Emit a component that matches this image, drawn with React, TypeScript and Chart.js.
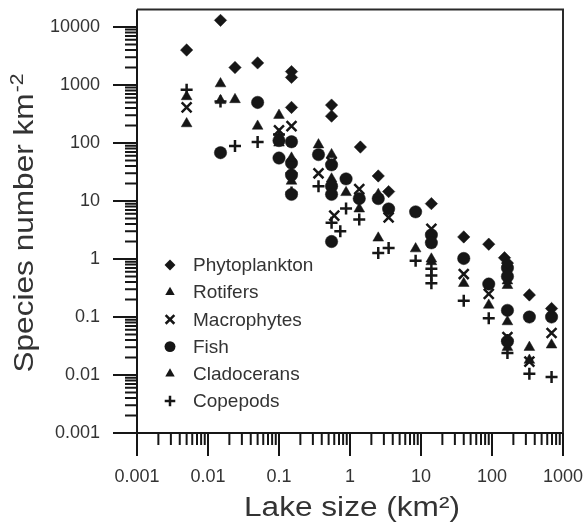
import React, { useEffect, useRef } from 'react';
import { Chart, registerables } from 'chart.js';

Chart.register(...registerables);

// ---- axis ticks ----
const xTickValues = [0.001, 0.01, 0.1, 1, 10, 100, 1000];
const xTickLabels = ['0.001', '0.01', '0.1', '1', '10', '100', '1000'];
const yTickValues = [0.001, 0.01, 0.1, 1, 10, 100, 1000, 10000];
const yTickLabels = ['0.001', '0.01', '0.1', '1', '10', '100', '1000', '10000'];
const xMin = 0.001;
const xMax = 1000;
const yMin = 0.001;
const yMax = 20000;

const xTitle = 'Lake size (km\u00B2)';
const yTitleMain = 'Species number km';
const yTitleSup = '-2';

// ---- series ----
const seriesNames = ['Phytoplankton', 'Rotifers', 'Macrophytes', 'Fish', 'Cladocerans', 'Copepods'];
const seriesStyles = ['rectRot', 'triangle', 'crossRot', 'circle', 'triangle', 'cross'];

const phytoX = [0.005, 0.015, 0.024, 0.05, 0.15, 0.15, 0.15, 0.55, 0.55, 1.4, 2.5, 3.5, 14, 40, 90, 150, 165, 336, 690];
const phytoY = [4000, 13000, 2000, 2400, 1700, 1350, 410, 450, 290, 85, 27, 14.5, 9, 2.4, 1.8, 1.05, 0.85, 0.24, 0.14];

const rotX = [0.005, 0.015, 0.024, 0.05, 0.1, 0.15, 0.36, 0.55, 0.88, 2.5, 8.4, 14, 40, 165, 336, 690];
const rotY = [630, 1050, 560, 195, 300, 55, 93, 63, 14, 13, 1.5, 1.0, 0.38, 0.35, 0.03, 0.033];

const macroX = [0.005, 0.1, 0.15, 0.36, 0.55, 0.6, 1.35, 3.5, 14, 40, 90, 165, 336, 690];
const macroY = [410, 165, 195, 30, 47, 5.6, 16, 5.2, 3.3, 0.55, 0.25, 0.045, 0.017, 0.053];

const fishX = [0.015, 0.05, 0.1, 0.1, 0.15, 0.15, 0.15, 0.15, 0.36, 0.55, 0.55, 0.55, 0.55, 0.88, 1.35, 2.5, 3.5, 8.4, 14, 14, 40, 90, 165, 165, 165, 165, 336, 690];
const fishY = [68, 500, 110, 55, 105, 45, 28, 13, 63, 42, 18, 13, 2.0, 24, 11, 11, 7.3, 6.5, 2.6, 1.9, 1.02, 0.37, 0.7, 0.5, 0.13, 0.038, 0.1, 0.1];

const cladX = [0.005, 0.015, 0.1, 0.15, 0.55, 1.35, 2.5, 14, 90, 165, 165, 165, 336];
const cladY = [215, 540, 100, 22, 24, 7.3, 2.3, 0.9, 0.16, 0.42, 0.083, 0.03, 0.018];

const copeX = [0.005, 0.015, 0.024, 0.05, 0.1, 0.15, 0.15, 0.36, 0.55, 0.73, 0.88, 1.35, 2.5, 3.5, 8.4, 14, 14, 14, 40, 90, 165, 165, 336, 690];
const copeY = [830, 520, 89, 104, 140, 30, 14, 18, 4.2, 3.0, 7.4, 4.8, 1.27, 1.55, 0.93, 0.68, 0.52, 0.38, 0.19, 0.095, 0.04, 0.024, 0.0105, 0.0092];

const seriesX = [phytoX, rotX, macroX, fishX, cladX, copeX];
const seriesY = [phytoY, rotY, macroY, fishY, cladY, copeY];

const INK = '#161616';
const TEXT = '#333333';
const FONT = "'Liberation Sans', Arial, sans-serif";

const pointRadii: Record<string, number> = { rectRot: 6.2, triangle: 6.2, crossRot: 7, circle: 6.2, cross: 6 };

function drawMarker(ctx: CanvasRenderingContext2D, style: string, x: number, y: number, r: number) {
  ctx.beginPath();
  if (style === 'circle') {
    ctx.arc(x, y, r, 0, Math.PI * 2);
    ctx.fill();
  } else if (style === 'rectRot') {
    ctx.moveTo(x, y - r);
    ctx.lineTo(x + r, y);
    ctx.lineTo(x, y + r);
    ctx.lineTo(x - r, y);
    ctx.closePath();
    ctx.fill();
  } else if (style === 'triangle') {
    ctx.moveTo(x, y - r);
    ctx.lineTo(x + r * 0.866, y + r * 0.5);
    ctx.lineTo(x - r * 0.866, y + r * 0.5);
    ctx.closePath();
    ctx.fill();
  } else if (style === 'cross') {
    ctx.moveTo(x - r, y);
    ctx.lineTo(x + r, y);
    ctx.moveTo(x, y - r);
    ctx.lineTo(x, y + r);
    ctx.stroke();
  } else if (style === 'crossRot') {
    const d = r * Math.SQRT1_2;
    ctx.moveTo(x - d, y - d);
    ctx.lineTo(x + d, y + d);
    ctx.moveTo(x - d, y + d);
    ctx.lineTo(x + d, y - d);
    ctx.stroke();
  }
}

const decorPlugin = {
  id: 'decor',
  beforeDatasetsDraw(chart: any) {
    const { ctx, chartArea: ca, scales } = chart;
    const xs = scales.x;
    const ys = scales.y;
    ctx.save();
    ctx.strokeStyle = INK;
    ctx.lineWidth = 2;
    ctx.lineCap = 'butt';
    ctx.beginPath();
    ctx.moveTo(ca.left, ca.top);
    ctx.lineTo(ca.left, ca.bottom);
    ctx.lineTo(ca.right, ca.bottom);
    ctx.stroke();
    ctx.strokeStyle = '#2a2a2a';
    ctx.beginPath();
    ctx.moveTo(ca.left, ca.top);
    ctx.lineTo(ca.right, ca.top);
    ctx.lineTo(ca.right, ca.bottom);
    ctx.stroke();
    ctx.strokeStyle = INK;
    const majLen = 23;
    const minLen = 12;
    ctx.beginPath();
    xTickValues.forEach((v, i) => {
      const px = xs.getPixelForValue(v);
      ctx.moveTo(px, ca.bottom);
      ctx.lineTo(px, ca.bottom + majLen);
      if (i < xTickValues.length - 1) {
        for (let k = 2; k <= 9; k++) {
          const mx = xs.getPixelForValue(v * k);
          ctx.moveTo(mx, ca.bottom);
          ctx.lineTo(mx, ca.bottom + minLen);
        }
      }
    });
    yTickValues.forEach((v, i) => {
      const py = ys.getPixelForValue(v);
      ctx.moveTo(ca.left - 24, py);
      ctx.lineTo(ca.left, py);
      if (i < yTickValues.length - 1) {
        for (let k = 2; k <= 9; k++) {
          const my = ys.getPixelForValue(v * k);
          ctx.moveTo(ca.left - minLen, my);
          ctx.lineTo(ca.left, my);
        }
      }
    });
    ctx.stroke();
    ctx.restore();
  },
  afterDraw(chart: any) {
    const { ctx, chartArea: ca } = chart;
    ctx.save();
    ctx.fillStyle = TEXT;
    ctx.font = `27px ${FONT}`;
    ctx.textAlign = 'center';
    ctx.textBaseline = 'alphabetic';
    ctx.save();
    ctx.translate((ca.left + ca.right) / 2 + 2, 516);
    ctx.scale(1.17, 1);
    ctx.fillText(xTitle, 0, 0);
    ctx.restore();
    ctx.save();
    ctx.translate(33, 223);
    ctx.rotate(-Math.PI / 2);
    ctx.scale(1.17, 1);
    ctx.textAlign = 'left';
    ctx.font = `27px ${FONT}`;
    const wMain = ctx.measureText(yTitleMain).width;
    ctx.font = `18px ${FONT}`;
    const wSup = ctx.measureText(yTitleSup).width;
    const total = wMain + 1 + wSup;
    const start = -total / 2;
    ctx.font = `27px ${FONT}`;
    ctx.fillText(yTitleMain, start, 0);
    ctx.font = `18px ${FONT}`;
    ctx.fillText(yTitleSup, start + wMain + 1, -10);
    ctx.restore();
    const lx = 170;
    const tx = 193;
    const ly0 = 265;
    const dy = 27.2;
    ctx.font = `19px ${FONT}`;
    ctx.textAlign = 'left';
    ctx.textBaseline = 'middle';
    seriesNames.forEach((name, i) => {
      const y = ly0 + i * dy;
      ctx.fillStyle = INK;
      ctx.strokeStyle = INK;
      ctx.lineWidth = 2.5;
      drawMarker(ctx, seriesStyles[i], lx, y, (pointRadii[seriesStyles[i]] || 5) * 0.88);
      ctx.fillStyle = TEXT;
      ctx.fillText(name, tx, y + 1);
    });
    ctx.restore();
  },
};

export default function App() {
  const canvasRef = useRef<HTMLCanvasElement | null>(null);

  useEffect(() => {
    if (!canvasRef.current) return;
    const datasets = seriesNames.map((name, i) => {
      const style = seriesStyles[i];
      const isLine = style === 'cross' || style === 'crossRot';
      return {
        label: name,
        data: seriesX[i].map((x, j) => ({ x, y: seriesY[i][j] })),
        pointStyle: style,
        pointRadius: pointRadii[style],
        pointHoverRadius: pointRadii[style],
        backgroundColor: INK,
        borderColor: INK,
        borderWidth: isLine ? 2.5 : 0.5,
        showLine: false,
      };
    });

    const chart = new Chart(canvasRef.current, {
      type: 'scatter',
      data: { datasets } as any,
      options: {
        responsive: false,
        animation: false,
        events: [],
        layout: { padding: { top: 6, right: 23, left: 0, bottom: 0 } },
        plugins: {
          legend: { display: false },
          tooltip: { enabled: false },
          title: { display: false },
        },
        scales: {
          x: {
            type: 'logarithmic',
            position: 'bottom',
            min: xMin,
            max: xMax,
            afterBuildTicks: (scale: any) => {
              scale.ticks = xTickValues.map((v) => ({ value: v }));
            },
            afterFit: (scale: any) => {
              scale.height = 90;
              scale.paddingLeft = 0;
              scale.paddingRight = 0;
            },
            ticks: {
              autoSkip: false,
              maxRotation: 0,
              minRotation: 0,
              padding: 33,
              color: TEXT,
              font: { family: FONT, size: 18 },
              callback: (_v: any, i: number) => xTickLabels[i],
            },
            grid: { display: false, drawTicks: false },
            border: { display: false },
          },
          y: {
            type: 'logarithmic',
            position: 'left',
            min: yMin,
            max: yMax,
            afterBuildTicks: (scale: any) => {
              scale.ticks = yTickValues.map((v) => ({ value: v }));
            },
            afterFit: (scale: any) => {
              scale.width = 137;
              scale.paddingTop = 0;
              scale.paddingBottom = 0;
            },
            ticks: {
              autoSkip: false,
              padding: 37,
              color: TEXT,
              font: { family: FONT, size: 18 },
              callback: (_v: any, i: number) => yTickLabels[i],
            },
            grid: { display: false, drawTicks: false },
            border: { display: false },
          },
        },
      } as any,
      plugins: [decorPlugin],
    });
    return () => chart.destroy();
  }, []);

  return (
    <div style={{ position: 'fixed', left: 0, top: 0, width: 586, height: 523, background: '#fff' }}>
      <canvas ref={canvasRef} width={586} height={523} style={{ display: 'block' }} />
    </div>
  );
}
